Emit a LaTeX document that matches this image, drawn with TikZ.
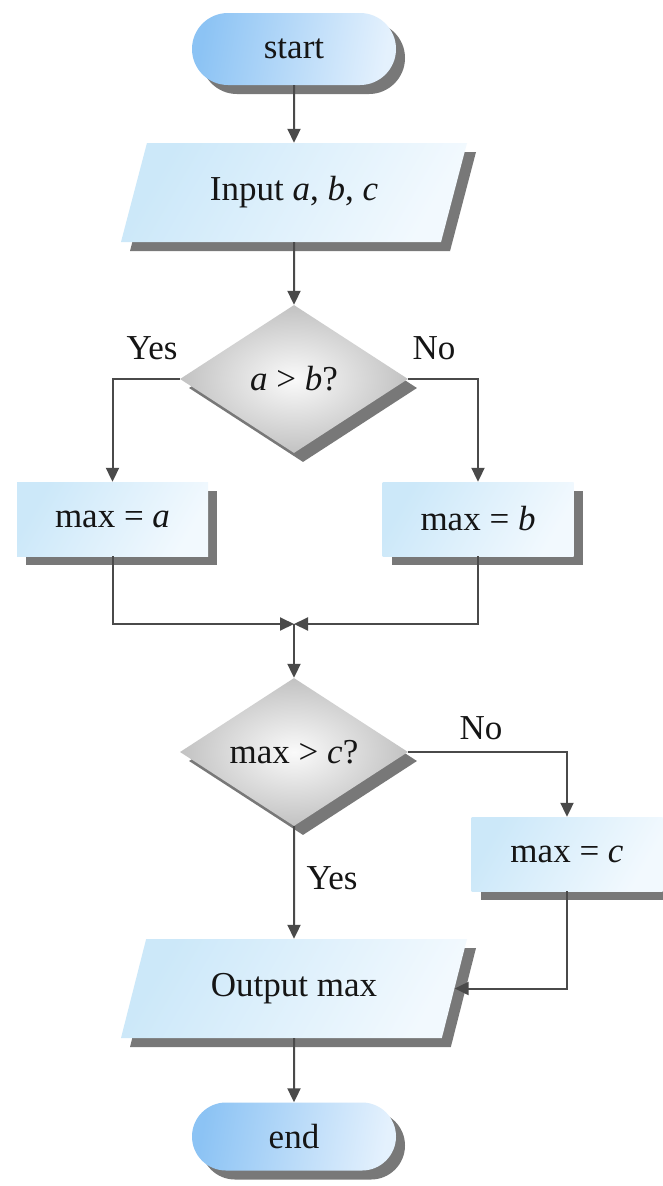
\documentclass[tikz,border=0pt]{standalone}
\usepackage{fontspec}
\setmainfont{Liberation Serif}
\usetikzlibrary{shapes.geometric,shapes.misc,arrows.meta,shadows}
\definecolor{termL}{HTML}{8CC3F4}
\definecolor{termR}{HTML}{E4F1FD}
\definecolor{boxL}{HTML}{CCE8F9}
\definecolor{boxR}{HTML}{F2F9FE}
\definecolor{diaIn}{HTML}{FAFAFA}
\definecolor{diaOut}{HTML}{C2C2C2}
\definecolor{shadowc}{HTML}{787878}
\definecolor{linec}{HTML}{4A4A4A}
\definecolor{textc}{HTML}{151515}
\begin{document}
\begin{tikzpicture}[x=1pt,y=-1pt,
  font=\fontsize{35}{40}\selectfont, text=textc,
  shad/.style={general shadow={fill=shadowc, shadow xshift=9pt, shadow yshift=-9pt}},
  term/.style={rounded rectangle, minimum width=208pt, minimum height=72pt, inner sep=2pt,
    left color=termL, right color=termR, shading angle=80, shad},
  iobox/.style={trapezium, trapezium left angle=54, trapezium right angle=126,
    trapezium stretches body, minimum width=346pt, minimum height=99pt, inner sep=2pt,
    left color=boxL, right color=boxR, shading angle=60, shad},
  decide/.style={diamond, aspect=1.54, minimum width=228pt, minimum height=148pt, inner sep=2pt,
    inner color=diaIn, outer color=diaOut, shad},
  procbox/.style={rectangle, minimum width=191pt, minimum height=74pt, inner sep=2pt,
    left color=boxL, right color=boxR, shading angle=60, shad},
  lbl/.style={inner sep=1pt},
  conn/.style={draw=linec, line width=2pt, -{Triangle[length=14pt,width=13pt]}}]
\useasboundingbox (0,0) rectangle (662,1186);
\fill[white] (0,0) rectangle (662,1186);

\node[term] (start) at (294,49) {start};
\node[iobox] (input) at (294,192.5) {Input \textit{a}\/, \textit{b}\/, \textit{c}};
\node[decide] (d1) at (294,379) {\textit{a} > \textit{b}\/?};
\node[procbox] (ba) at (112.5,519) {max = \textit{a}};
\node[procbox] (bb) at (478,519) {max = \textit{b}};
\coordinate (merge) at (294,624);
\node[decide] (d2) at (294,752) {max > \textit{c}\/?};
\node[procbox] (bc) at (567,854) {max = \textit{c}};
\node[iobox] (out) at (294,988.5) {Output max};
\node[term, minimum height=68pt] (end) at (294,1136.5) {end};

\node[lbl] (yes1) at (152,348) {Yes};
\node[lbl] (no1) at (434,348) {No};
\node[lbl] (no2) at (481,728) {No};
\node[lbl] (yes2) at (332,878) {Yes};

\draw[conn] (start.south) -- (input.north);
\draw[conn] (input.south) -- (d1.north);
\draw[conn] (d1.west) -| (ba.north);
\draw[conn] (d1.east) -| (bb.north);
\draw[conn] (ba.south) |- (merge);
\draw[conn] (bb.south) |- (merge);
\draw[conn] (merge) -- (d2.north);
\draw[conn] (d2.south) -- (out.north);
\draw[conn] (d2.east) -| (bc.north);
\draw[conn] (bc.south) |- (out.east);
\draw[conn] (out.south) -- (end.north);
\end{tikzpicture}
\end{document}
